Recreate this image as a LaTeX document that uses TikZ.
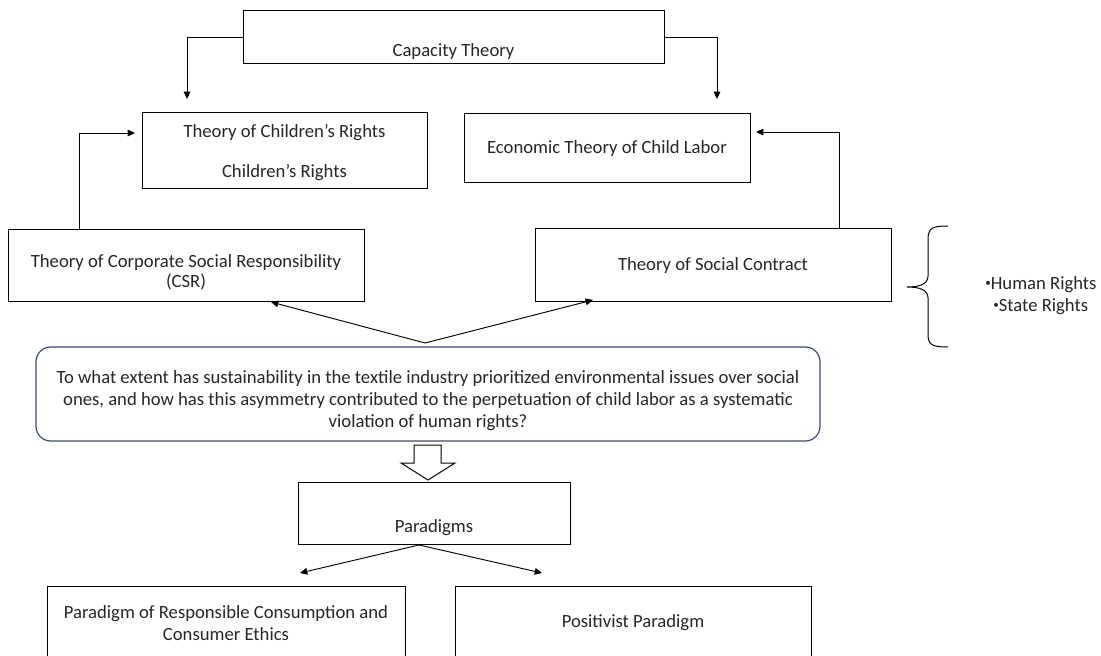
\documentclass[tikz,border=0pt]{standalone}
\usepackage{fontspec}
\setmainfont{Carlito}
\usepackage{tikz}
\usetikzlibrary{arrows.meta, calc, positioning}
\definecolor{qframe}{RGB}{56,76,108}
\newcommand{\rbul}{\raisebox{2.5pt}{\scalebox{0.6}{\textbullet}}}

\begin{document}
\begin{tikzpicture}[x=0.75pt, y=-0.75pt,
    font=\fontsize{14}{16.5}\selectfont, text=black!85,
    box/.style={draw, line width=0.75pt, rectangle, align=center, inner sep=2pt},
    arr/.style={-{Triangle[length=5.5pt,width=5pt]}, line width=0.7pt}]
    \useasboundingbox (0,0) rectangle (1101,656);
    \clip (0,0) rectangle (1101,656);

    % Theories
    \node[box, minimum width=315.75pt, minimum height=39.75pt, text height=31.5pt, text depth=1.5pt] (cap) at (453.5,37) {Capacity Theory};
    \node[box, minimum width=213.75pt, minimum height=57pt] (kids) at (284.5,151) {\rule{0pt}{12pt}Theory of Children's Rights\\[14pt]Children's Rights};
    \node[box, minimum width=214.5pt, minimum height=51.75pt] (econ) at (607,148.5) {Economic Theory of Child Labor};
    \node[box, minimum width=267pt, minimum height=54pt] (csr) at (186,266) {\rule{0pt}{19.5pt}Theory of Corporate Social Responsibility\\[-1.5pt](CSR)};
    \node[box, minimum width=267pt, minimum height=54.75pt] (social) at (713,265.5) {Theory of Social Contract};

    % Research question
    \node[draw=qframe, line width=0.9pt, rounded corners=11pt, align=center, minimum width=588pt, minimum height=70.5pt] (quest) at (428,394) {\rule{0pt}{20pt}To what extent has sustainability in the textile industry prioritized environmental issues over social\\ ones, and how has this asymmetry contributed to the perpetuation of child labor as a systematic\\ violation of human rights?};

    % Paradigms
    \node[box, minimum width=204pt, minimum height=46.5pt, text height=30pt, text depth=1.5pt] (para) at (434,513) {Paradigms};
    \node[box, minimum width=268.5pt, minimum height=55.5pt] (cons) at (226,623) {Paradigm of Responsible Consumption and\\ Consumer Ethics};
    \node[box, minimum width=267pt, minimum height=55.5pt] (posi) at (633,623) {Positivist Paradigm};

    % Connector ends
    \coordinate (capL) at (187,99);
    \coordinate (capR) at (717,99);
    \coordinate (csrup) at (79,230);
    \coordinate (kidsin) at (135,133);
    \coordinate (socup) at (839,229);
    \coordinate (econin) at (756,132);
    \coordinate (qtop) at (425,343);
    \coordinate (csrin) at (271,302);
    \coordinate (socin) at (593,300);
    \coordinate (pbot) at (419,545);
    \coordinate (consin) at (300,573);
    \coordinate (posin) at (542,573);

    \draw[arr] (cap.west) -| (capL);
    \draw[arr] (cap.east) -| (capR);
    \draw[arr] (csrup) |- (kidsin);
    \draw[arr] (socup) |- (econin);
    \draw[arr] (qtop) -- (csrin);
    \draw[arr] (qtop) -- (socin);
    \draw[arr] (pbot) -- (consin);
    \draw[arr] (pbot) -- (posin);

    % Hollow down arrow
    \coordinate (down) at (428,445);
    \draw[line width=0.75pt, fill=white] (down) ++(-14,0) -- ++(27,0) -- ++(0,18) -- ++(14,0)
        -- (428,480) -- (401,463) -- (414,463) -- cycle;

    % Brace and rights
    \draw[line width=0.75pt] (948,226) .. controls (932,226) and (928,228) .. (928,240) -- (928,276)
        .. controls (928,284) and (920,287) .. (907,287)
        .. controls (920,287) and (928,290) .. (928,298) -- (928,334)
        .. controls (928,345) and (932,347) .. (948,347);
    \node[anchor=west, inner sep=0pt] (hum) at (985,285) {\rbul Human Rights};
    \node[anchor=west, inner sep=0pt] (state) at (993,307) {\rbul State Rights};
\end{tikzpicture}
\end{document}
